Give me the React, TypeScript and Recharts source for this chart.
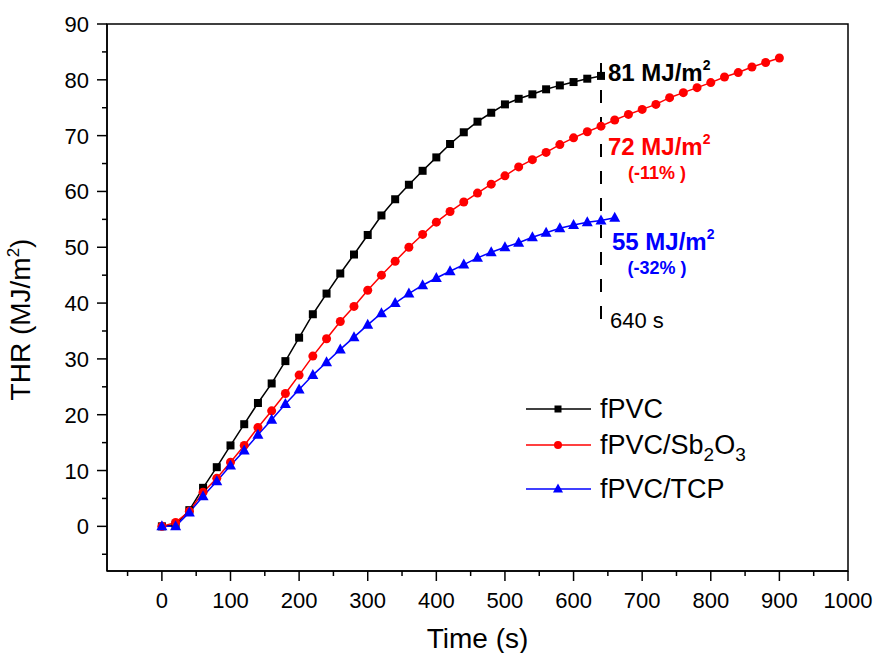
import React from 'react';
import { LineChart, Line, XAxis, YAxis, ReferenceLine, ReferenceDot, ReferenceArea, Legend } from 'recharts';

// time (s), one reading every 20 s
const times = [
  0, 20, 40, 60, 80, 100, 120, 140, 160, 180, 200, 220, 240, 260, 280, 300,
  320, 340, 360, 380, 400, 420, 440, 460, 480, 500, 520, 540, 560, 580, 600,
  620, 640, 660, 680, 700, 720, 740, 760, 780, 800, 820, 840, 860, 880, 900,
];

// THR (MJ/m2)
const fpvc = [
  0, 0.3, 2.9, 6.9, 10.6, 14.5, 18.3, 22.1, 25.6, 29.6, 33.8, 38.0, 41.7, 45.3, 48.7, 52.2,
  55.7, 58.6, 61.2, 63.7, 66.1, 68.5, 70.6, 72.5, 74.1, 75.6, 76.6, 77.4, 78.3, 79.0, 79.6,
  80.2, 80.7,
];
const fpvcSb2o3 = [
  0, 0.7, 2.7, 6.1, 8.6, 11.5, 14.5, 17.7, 20.7, 23.8, 27.1, 30.5, 33.6, 36.7, 39.4, 42.3,
  45.0, 47.5, 50.0, 52.3, 54.5, 56.4, 58.1, 59.7, 61.3, 62.8, 64.4, 65.7, 67.0, 68.4, 69.6,
  70.7, 71.7, 72.8, 73.8, 74.7, 75.6, 76.8, 77.7, 78.6, 79.5, 80.5, 81.3, 82.3, 83.1, 83.9,
];
const fpvcTcp = [
  0, 0, 2.5, 5.4, 8.1, 10.9, 13.6, 16.4, 19.1, 21.9, 24.5, 27.1, 29.4, 31.7, 33.9, 36.1,
  38.2, 40.0, 41.7, 43.2, 44.5, 45.7, 46.9, 48.1, 49.1, 50.0, 50.8, 51.8, 52.6, 53.4, 54.0,
  54.5, 54.8, 55.3,
];

const xTicks = [
  -50, 0, 50, 100, 150, 200, 250, 300, 350, 400, 450, 500, 550, 600, 650, 700, 750, 800,
  850, 900, 950, 1000,
];
const yTicks = [-5, 0, 5, 10, 15, 20, 25, 30, 35, 40, 45, 50, 55, 60, 65, 70, 75, 80, 85, 90];

const cutTime = 640;
const cutLabel = '640 s';
const cutTop = 83;
const cutBottom = 37;

const notes = [
  { value: 81, text: '81 MJ/m', change: '', color: '#000000', dx: 7, dy: 7 },
  { value: 72, text: '72 MJ/m', change: '(-11% )', color: '#ff0000', dx: 7, dy: 31 },
  { value: 55, text: '55 MJ/m', change: '(-32% )', color: '#0000ff', dx: 11, dy: 31 },
];

const FONT = "'Liberation Sans', Arial, sans-serif";

const data = times.map((t, i) => ({
  t,
  fpvc: fpvc[i],
  sb: fpvcSb2o3[i],
  tcp: fpvcTcp[i],
}));

const XTick = (props: any) => {
  const { x, y, payload } = props;
  const major = payload.value % 100 === 0;
  return (
    <g>
      <line x1={x} x2={x} y1={y} y2={y + (major ? 10 : 5)} stroke="#000" strokeWidth={1.5} />
      {major && (
        <text x={x} y={y + 37} textAnchor="middle" fontSize={22} fontFamily={FONT} fill="#000">
          {payload.value}
        </text>
      )}
    </g>
  );
};

const YTick = (props: any) => {
  const { x, y, payload } = props;
  const major = payload.value % 10 === 0;
  return (
    <g>
      <line x1={x - (major ? 10 : 5)} x2={x} y1={y} y2={y} stroke="#000" strokeWidth={1.5} />
      {major && (
        <text x={x - 18} y={y + 8} textAnchor="end" fontSize={22} fontFamily={FONT} fill="#000">
          {payload.value}
        </text>
      )}
    </g>
  );
};

const YTitle = (props: any) => {
  const vb = props.viewBox || { x: 47, y: 24, width: 60, height: 547 };
  const cx = vb.x - 17;
  const cy = vb.y + vb.height / 2 + 22;
  return (
    <text transform={`translate(${cx},${cy}) rotate(-90)`} textAnchor="middle" fontSize={28} fontFamily={FONT} fill="#000">
      THR (MJ/m
      <tspan dy={-11} fontSize={17}>2</tspan>
      <tspan dy={11}>)</tspan>
    </text>
  );
};

const XTitle = (props: any) => {
  const vb = props.viewBox || { x: 107, y: 571, width: 741, height: 82 };
  return (
    <text x={vb.x + vb.width / 2} y={vb.y + 77} textAnchor="middle" fontSize={28} fontFamily={FONT} fill="#000">
      Time (s)
    </text>
  );
};

const squareDot = (props: any) => {
  const { cx, cy, value, index } = props;
  if (value == null || cx == null) return <g key={`s${index}`} />;
  return <rect key={`s${index}`} x={cx - 4} y={cy - 4} width={8} height={8} fill="#000" />;
};
const circleDot = (props: any) => {
  const { cx, cy, value, index } = props;
  if (value == null || cx == null) return <g key={`c${index}`} />;
  return <circle key={`c${index}`} cx={cx} cy={cy} r={4.5} fill="#ff0000" />;
};
const triangleDot = (props: any) => {
  const { cx, cy, value, index } = props;
  if (value == null || cx == null) return <g key={`t${index}`} />;
  return (
    <path key={`t${index}`} d={`M${cx},${cy - 6} L${cx + 5.5},${cy + 4} L${cx - 5.5},${cy + 4} Z`} fill="#0000ff" />
  );
};

const NoteText = ({ viewBox, note }: any) => {
  const x = viewBox.x + viewBox.width / 2;
  const y = viewBox.y + viewBox.height / 2;
  return (
    <g fontFamily={FONT} fontWeight="bold" fill={note.color}>
      <text x={x + note.dx} y={y + note.dy} fontSize={24} fill={note.color}>
        {note.text}
        <tspan dy={-11} fontSize={14}>2</tspan>
      </text>
      {note.change && (
        <text x={x + 56} y={y + note.dy + 24} fontSize={18} textAnchor="middle" fill={note.color}>
          {note.change}
        </text>
      )}
    </g>
  );
};

const CutText = ({ viewBox }: any) => {
  const x = viewBox.x + viewBox.width / 2;
  const y = viewBox.y + viewBox.height / 2;
  return (
    <text x={x + 9} y={y + 8} fontSize={22} fontFamily={FONT} fill="#000">
      {cutLabel}
    </text>
  );
};

const legendRows = [
  { color: '#000000', marker: 'square', label: <>fPVC</> },
  {
    color: '#ff0000',
    marker: 'circle',
    label: (
      <>
        fPVC/Sb<tspan dy={7} fontSize={19}>2</tspan>
        <tspan dy={-7}>O</tspan>
        <tspan dy={7} fontSize={19}>3</tspan>
      </>
    ),
  },
  { color: '#0000ff', marker: 'triangle', label: <>fPVC/TCP</> },
];
const legendY = [29, 65, 109];

const LegendBox = () => (
  <svg width={320} height={140} style={{ display: 'block' }}>
    {legendRows.map((r, i) => {
      const y = legendY[i];
      return (
        <g key={i}>
          <line x1={6} x2={71} y1={y} y2={y} stroke={r.color} strokeWidth={1.5} />
          {r.marker === 'square' && <rect x={34.5} y={y - 3.5} width={7} height={7} fill={r.color} />}
          {r.marker === 'circle' && <circle cx={38} cy={y} r={4} fill={r.color} />}
          {r.marker === 'triangle' && (
            <path d={`M38,${y - 5.5} L43,${y + 3.5} L33,${y + 3.5} Z`} fill={r.color} />
          )}
          <text x={80} y={y + 9} fontSize={27} fontFamily={FONT} fill="#000">
            {r.label}
          </text>
        </g>
      );
    })}
  </svg>
);

export default function App() {
  return (
    <div style={{ position: 'absolute', left: 0, top: 0, width: 877, height: 653, background: '#fff' }}>
      <LineChart width={877} height={653} data={data} margin={{ top: 24, right: 29, left: 47, bottom: 0 }}>
        <XAxis
          type="number"
          dataKey="t"
          domain={[-80, 1000]}
          ticks={xTicks}
          interval={0}
          allowDataOverflow
          height={82}
          tickSize={0}
          tickMargin={0}
          tick={<XTick />}
          axisLine={{ stroke: '#000', strokeWidth: 1.5 }}
          label={<XTitle />}
        />
        <YAxis
          type="number"
          domain={[-8, 90]}
          ticks={yTicks}
          interval={0}
          allowDataOverflow
          width={60}
          tickSize={0}
          tickMargin={0}
          tick={<YTick />}
          axisLine={{ stroke: '#000', strokeWidth: 1.5 }}
          label={<YTitle />}
        />
        <ReferenceArea x1={-80} x2={1000} y1={-8} y2={90} fill="none" stroke="#000" strokeWidth={1.5} strokeOpacity={1} fillOpacity={0} ifOverflow="visible" />
        <ReferenceLine
          segment={[{ x: cutTime, y: cutTop }, { x: cutTime, y: cutBottom }]}
          stroke="#000"
          strokeWidth={2}
          strokeDasharray="13 14"
        />
        <Line dataKey="fpvc" stroke="#000000" strokeWidth={1.5} dot={squareDot} activeDot={false} isAnimationActive={false} />
        <Line dataKey="sb" stroke="#ff0000" strokeWidth={1.5} dot={circleDot} activeDot={false} isAnimationActive={false} />
        <Line dataKey="tcp" stroke="#0000ff" strokeWidth={1.5} dot={triangleDot} activeDot={false} isAnimationActive={false} />
        {notes.map((n) => (
          <ReferenceDot
            key={n.text}
            x={cutTime}
            y={n.value}
            r={0}
            fill="none"
            stroke="none"
            label={(p: any) => <NoteText {...p} note={n} />}
          />
        ))}
        <ReferenceDot x={cutTime} y={cutBottom} r={0} fill="none" stroke="none" label={(p: any) => <CutText {...p} />} />
        <Legend
          layout="vertical"
          align="center"
          verticalAlign="middle"
          wrapperStyle={{ left: 520, top: 380, width: 320, height: 140 }}
          content={() => <LegendBox />}
        />
      </LineChart>
    </div>
  );
}
